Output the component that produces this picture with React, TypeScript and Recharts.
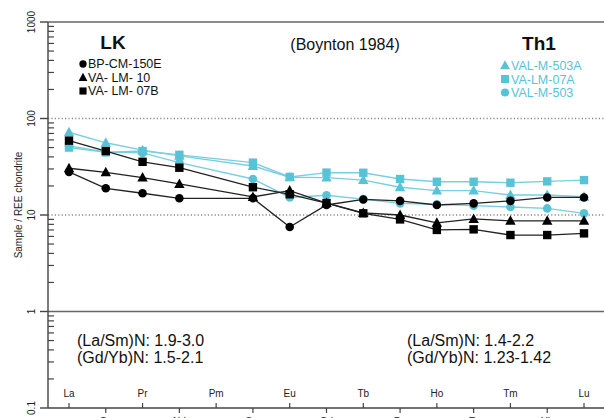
import { LineChart, Line, XAxis, YAxis, ReferenceLine } from "recharts";

const elements = ["La", "Ce", "Pr", "Nd", "Pm", "Sm", "Eu", "Gd", "Tb", "Dy", "Ho", "Er", "Tm", "Yb", "Lu"];

// LK group
const bpCm150E = [28, 18.9, 16.8, 14.9, null, 14.9, 7.5, 12.7, 14.5, 14.0, 12.7, 13.2, 14.0, 15.2, 15.2];
const vaLm10 = [30.5, 27.7, 24.4, 21, null, 15.4, 17.9, 13.3, 10.5, 10.0, 8.3, 9.1, 8.7, 8.7, 8.7];
const vaLm07B = [59, 46, 35.6, 30.9, null, 19.4, 16.4, 13.3, 10.4, 9.0, 7.0, 7.1, 6.2, 6.2, 6.45];

// Th1 group
const valM503A = [72, 56, 47, 41, null, 32.2, 24.6, 24.4, 23, 19.4, 17.9, 17.9, 16.1, 16.1, 15.5];
const vaLm07A = [50, 44.6, 46, 42, null, 34.9, 24.8, 27.5, 27.4, 23.6, 22.1, 22.1, 21.6, 22.3, 23];
const valM503 = [52, 45, 44, 34.9, null, 23.6, 15.2, 16, 14.6, 13.2, 12.9, 12.5, 12.1, 11.7, 10.4];

const yTicks = [0.1, 1, 10, 100, 1000];
const minorTicks = [0.2, 0.3, 0.4, 0.5, 0.6, 0.7, 0.8, 0.9, 2, 3, 4, 5, 6, 7, 8, 9, 20, 30, 40, 50, 60, 70, 80, 90, 200, 300, 400, 500, 600, 700, 800, 900];

const data = elements.map((el, i) => ({
  el,
  bpCm150E: bpCm150E[i],
  vaLm10: vaLm10[i],
  vaLm07B: vaLm07B[i],
  valM503A: valM503A[i],
  vaLm07A: vaLm07A[i],
  valM503: valM503[i],
}));

const FONT = "'Liberation Sans', Arial, sans-serif";
const CYAN = "#58c3d7";
const CYAN_LINE = "#79cfdf";
const BLACK = "#000";
const AXIS = "#444";

type Shape = "circle" | "triangle" | "square";

function marker(shape: Shape, cx: number, cy: number, fill: string, s = 1) {
  if (shape === "circle") return <circle cx={cx} cy={cy} r={4.3 * s} fill={fill} />;
  if (shape === "square") {
    const h = 4.2 * s;
    return <rect x={cx - h} y={cy - h} width={h * 2} height={h * 2} fill={fill} />;
  }
  const w = 5.2 * s;
  return <polygon points={`${cx},${cy - 5.5 * s} ${cx - w},${cy + 4 * s} ${cx + w},${cy + 4 * s}`} fill={fill} />;
}

const makeDot = (shape: Shape, fill: string) => (props: any) => {
  const { cx, cy, index } = props;
  if (cx == null || cy == null || props.value == null) return <g key={index} />;
  return <g key={index}>{marker(shape, cx, cy, fill)}</g>;
};

// labels alternate: even elements above the axis, odd ones below (cut by the frame, as in the source)
const XTick = (props: any) => {
  const { x, y, payload } = props;
  const i = elements.indexOf(payload.value);
  const up = i % 2 === 0;
  return (
    <g>
      <line x1={x} x2={x} y1={y} y2={up ? y - 5 : y + 5} stroke={AXIS} strokeWidth={1.2} />
      <text x={x} y={up ? y - 11 : y + 17} textAnchor="middle" fontSize={10} fontFamily={FONT} fill="#222">
        {payload.value}
      </text>
    </g>
  );
};

const YTick = (props: any) => {
  const { y, payload } = props;
  return (
    <text x={35} y={y} transform={`rotate(-90 35 ${y})`} textAnchor="middle" fontSize={10} fontFamily={FONT} fill="#222">
      {String(payload.value)}
    </text>
  );
};

const MinorTick = (props: any) => (
  <line x1={props.x1} x2={props.x1 + 6} y1={props.y1} y2={props.y1} stroke={AXIS} strokeWidth={1.2} />
);

const leftLegend: [Shape, string][] = [
  ["circle", "BP-CM-150E"],
  ["triangle", "VA- LM- 10"],
  ["square", "VA- LM- 07B"],
];
const rightLegend: [Shape, string][] = [
  ["triangle", "VAL-M-503A"],
  ["square", "VA-LM-07A"],
  ["circle", "VAL-M-503"],
];

export default function App() {
  return (
    <div style={{ position: "absolute", left: 0, top: 0, width: 604, height: 418, overflow: "hidden", background: "#fff" }}>
      <LineChart width={604} height={418} data={data} margin={{ top: 22, right: 0, bottom: 0, left: 0 }}>
        <XAxis
          dataKey="el"
          type="category"
          interval={0}
          padding={{ left: 21, right: 20 }}
          height={10}
          tickSize={0}
          tickMargin={0}
          tickLine={false}
          axisLine={{ stroke: AXIS, strokeWidth: 1.4 }}
          tick={<XTick />}
        />
        <YAxis
          scale="log"
          domain={[0.1, 1000]}
          ticks={yTicks}
          allowDataOverflow
          width={48}
          tickSize={8}
          tickMargin={0}
          tickLine={{ stroke: AXIS, strokeWidth: 1.4 }}
          axisLine={{ stroke: AXIS, strokeWidth: 1.4 }}
          tick={<YTick />}
        />
        <ReferenceLine y={1000} stroke="#666" strokeWidth={1.5} />
        <ReferenceLine y={100} stroke="#888" strokeWidth={1.3} strokeDasharray="1.2 2.2" />
        <ReferenceLine y={10} stroke="#888" strokeWidth={1.3} strokeDasharray="1.2 2.2" />
        <ReferenceLine y={1} stroke="#666" strokeWidth={1.5} />
        {minorTicks.map((v) => (
          <ReferenceLine key={v} y={v} shape={MinorTick} />
        ))}

        <Line dataKey="valM503" stroke={CYAN_LINE} strokeWidth={1.4} connectNulls dot={makeDot("circle", CYAN)} isAnimationActive={false} />
        <Line dataKey="vaLm07A" stroke={CYAN_LINE} strokeWidth={1.4} connectNulls dot={makeDot("square", CYAN)} isAnimationActive={false} />
        <Line dataKey="valM503A" stroke={CYAN_LINE} strokeWidth={1.4} connectNulls dot={makeDot("triangle", CYAN)} isAnimationActive={false} />
        <Line dataKey="bpCm150E" stroke="#222" strokeWidth={1.3} connectNulls dot={makeDot("circle", BLACK)} isAnimationActive={false} />
        <Line dataKey="vaLm10" stroke="#222" strokeWidth={1.3} connectNulls dot={makeDot("triangle", BLACK)} isAnimationActive={false} />
        <Line dataKey="vaLm07B" stroke="#222" strokeWidth={1.3} connectNulls dot={makeDot("square", BLACK)} isAnimationActive={false} />

        <g fontFamily={FONT} fill="#111">
          <text x={22} y={205} transform="rotate(-90 22 205)" textAnchor="middle" fontSize={10} fill="#222">
            Sample / REE chondrite
          </text>
          <text x={113} y={49} textAnchor="middle" fontSize={19} fontWeight="bold">LK</text>
          <text x={345} y={50} textAnchor="middle" fontSize={16}>(Boynton 1984)</text>
          <text x={539} y={50} textAnchor="middle" fontSize={19} fontWeight="bold">Th1</text>
          {leftLegend.map(([shape, name], i) => (
            <g key={name}>
              {marker(shape, 83, 64 + i * 13.5, BLACK, 0.85)}
              <text x={88} y={68 + i * 13.5} fontSize={12.5}>{name}</text>
            </g>
          ))}
          {rightLegend.map(([shape, name], i) => (
            <g key={name}>
              {marker(shape, 505, 65.5 + i * 13.5, CYAN, 0.95)}
              <text x={511} y={70 + i * 13.5} fontSize={12.5} fill={CYAN}>{name}</text>
            </g>
          ))}
          <text x={77} y={346} fontSize={16}>(La/Sm)N: 1.9-3.0</text>
          <text x={77} y={363} fontSize={16}>(Gd/Yb)N: 1.5-2.1</text>
          <text x={407} y={346} fontSize={16}>(La/Sm)N: 1.4-2.2</text>
          <text x={407} y={363} fontSize={16}>(Gd/Yb)N: 1.23-1.42</text>
        </g>
      </LineChart>
    </div>
  );
}
